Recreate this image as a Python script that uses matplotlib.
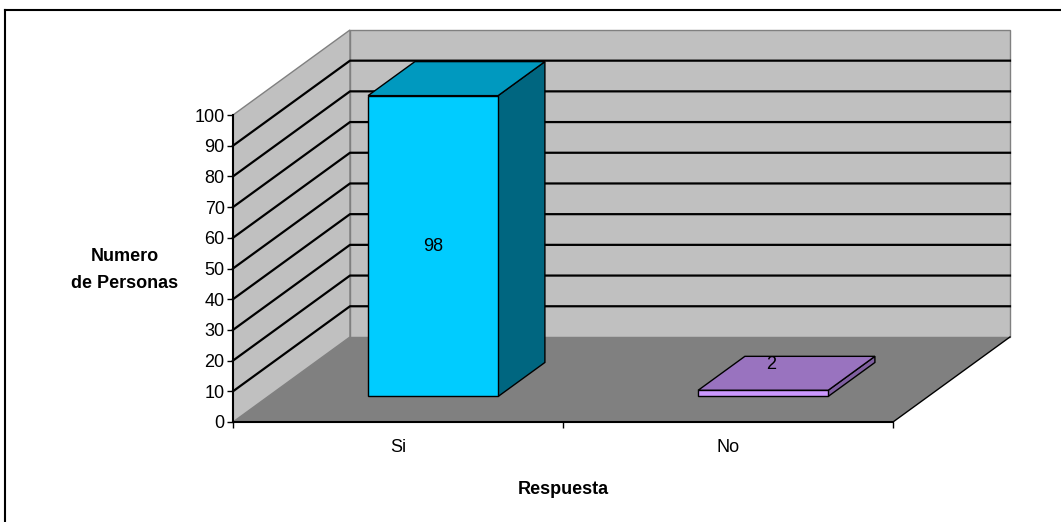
import matplotlib
matplotlib.use("Agg")
import matplotlib.pyplot as plt
from matplotlib.patches import Polygon
from matplotlib.lines import Line2D

plt.rcParams['font.family'] = ['Liberation Sans', 'DejaVu Sans']

categories = ['Si', 'No']
values = [98, 2]
front_colors = ['#00CCFF', '#CC99FF']
top_colors = ['#0099BF', '#9973BF']
side_colors = ['#006680', '#7F5FA0']
yticks = list(range(0, 101, 10))

# depth of the pseudo-3D box, in data units (x: categories, y: values)
DX = 0.3545
DY = 27.7
BAR_W = 0.394
F0, F1 = 0.3, 0.7

fig = plt.figure(figsize=(10.61, 5.22), dpi=100)
ax = fig.add_axes([233 / 1061, 100 / 522, 660 / 1061, 307 / 522])
ax.set_xlim(0, len(categories))
ax.set_ylim(0, 100)
ax.set_facecolor('none')

wall_c = '#C0C0C0'
floor_c = '#808080'
edge_c = '#808080'

# walls and floor
ax.add_patch(Polygon([(0, 0), (0, 100), (DX, 100 + DY), (DX, DY)],
                     closed=True, fc=wall_c, ec=edge_c, lw=1, clip_on=False, zorder=0))
ax.add_patch(Polygon([(DX, DY), (DX, 100 + DY), (2 + DX, 100 + DY), (2 + DX, DY)],
                     closed=True, fc=wall_c, ec=edge_c, lw=1, clip_on=False, zorder=0))
ax.add_patch(Polygon([(0, 0), (2, 0), (2 + DX, DY), (DX, DY)],
                     closed=True, fc=floor_c, ec='none', clip_on=False, zorder=0.5))
ax.add_line(Line2D([2, 2 + DX], [0, DY], color='black', lw=1, clip_on=False, zorder=0.6))

# gridlines on both walls
for k in yticks[1:-1]:
    ax.add_line(Line2D([0, DX, 2 + DX], [k, k + DY, k + DY],
                       color='black', lw=1.6, clip_on=False, zorder=0.7))

# columns
for i, (v, fc, tc, sc) in enumerate(zip(values, front_colors, top_colors, side_colors)):
    x0 = i + 0.5 - BAR_W / 2
    x1 = i + 0.5 + BAR_W / 2
    ax0, ay0 = F0 * DX, F0 * DY
    bx0, by0 = F1 * DX, F1 * DY
    front = [(x0 + ax0, ay0), (x1 + ax0, ay0), (x1 + ax0, v + ay0), (x0 + ax0, v + ay0)]
    top = [(x0 + ax0, v + ay0), (x1 + ax0, v + ay0), (x1 + bx0, v + by0), (x0 + bx0, v + by0)]
    side = [(x1 + ax0, ay0), (x1 + bx0, by0), (x1 + bx0, v + by0), (x1 + ax0, v + ay0)]
    for pts, c in ((side, sc), (top, tc), (front, fc)):
        ax.add_patch(Polygon(pts, closed=True, fc=c, ec='black', lw=1,
                             clip_on=False, zorder=2))

# value labels
ax.text(0.5 + F0 * DX, values[0] / 2 + F0 * DY, str(values[0]),
        ha='center', va='center', fontsize=13, zorder=3)
ax.text(1.5 + 0.37 * DX, values[1] + 0.6 * DY, str(values[1]),
        ha='center', va='center', fontsize=13, zorder=3)

# axes
for s in ('top', 'right'):
    ax.spines[s].set_visible(False)
for s in ('left', 'bottom'):
    ax.spines[s].set_linewidth(1.5)
    ax.spines[s].set_zorder(1)
ax.set_yticks(yticks)
ax.tick_params(axis='y', direction='out', length=4, width=1, labelsize=13, pad=2)
ax.set_xticks([0, 1, 2])
ax.set_xticklabels([])
ax.tick_params(axis='x', which='major', direction='out', length=4, width=1)
ax.set_xticks([0.5, 1.5], minor=True)
ax.set_xticklabels(categories, minor=True)
ax.tick_params(axis='x', which='minor', length=0, labelsize=13, pad=12)

ax.set_xlabel('Respuesta', fontsize=13, fontweight='bold', labelpad=18)
ax.set_ylabel('Numero\nde Personas', fontsize=13, fontweight='bold',
              rotation=0, ha='center', va='center', linespacing=1.75)
ax.yaxis.set_label_coords(-0.1636, 0.496)

# chart frame
fig.add_artist(Line2D([5 / 1061, 1], [1 - 10 / 522, 1 - 10 / 522], color='black', lw=1.5))
fig.add_artist(Line2D([5 / 1061, 5 / 1061], [0, 1 - 10 / 522], color='black', lw=1.5))

fig.savefig('out.png', dpi=100)
